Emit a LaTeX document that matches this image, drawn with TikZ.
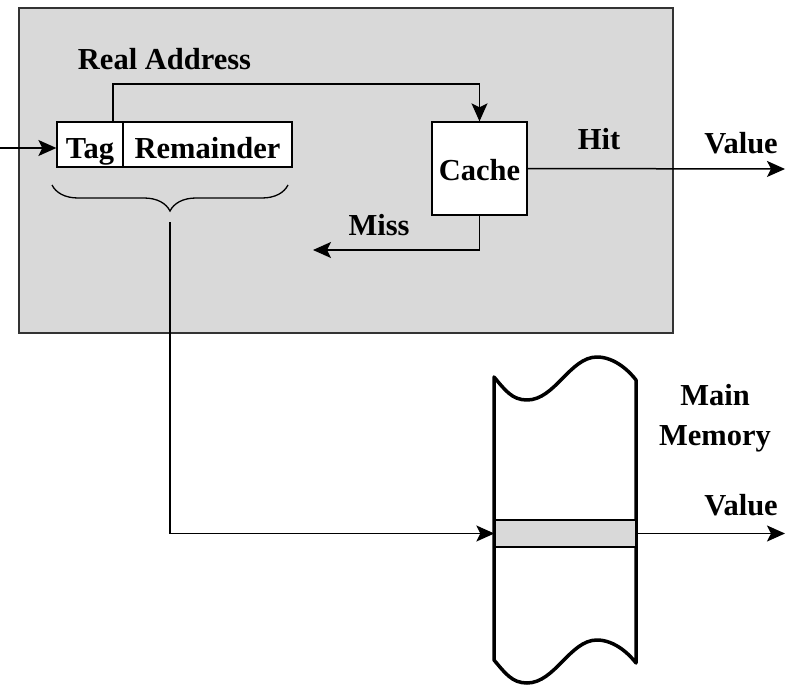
\documentclass[tikz,border=0pt]{standalone}
\usepackage{fontspec}
\setmainfont{Liberation Serif}
\usetikzlibrary{positioning,arrows.meta,decorations.pathreplacing}

\tikzset{
  lbl/.style={font=\bfseries\fontsize{30.5}{40}\selectfont, inner sep=0pt, align=center},
  fld/.style={draw, fill=white, line width=1.3pt, minimum height=45pt, inner sep=0pt,
    text height=28pt, text depth=1pt, font=\bfseries\fontsize{30.5}{34}\selectfont},
  arr/.style={-{Stealth[length=18pt,width=16pt,inset=4pt]}, line width=1.5pt}
}

\begin{document}
\begin{tikzpicture}[x=1pt,y=-1pt]
\useasboundingbox (0,0) rectangle (791,687);
\filldraw[fill=black!15, draw=black!80, line width=2pt] (19,8) rectangle (673,333);
\node[lbl] (raddr) at (164.5,59) {Real Address};
\node[fld, minimum width=66pt] (tag) at (90,144.5) {Tag};
\node[fld, minimum width=169pt, right=-1.3pt of tag] (rem) {Remainder};
\node[fld, minimum width=95pt, minimum height=93pt, text height=23pt, text depth=0pt] (cache) at (479.5,168.5) {Cache};
\node[lbl] (hit) at (599,139) {Hit};
\node[lbl] (miss) at (379,225) {Miss};
\node[lbl] (value1) at (741,143) {Value};
\coordinate (src) at (0,148);
\coordinate (hitend) at (785,169);
\coordinate (missend) at (313,250);
\draw[arr] (src) -- (src -| tag.west);
\draw[arr] ([xshift=23pt]tag.north) |- (300,84) -| (cache.north);
\draw[arr] (cache.east) -- (hitend);
\draw[arr] (cache.south) |- (missend);
\draw[decorate, decoration={brace, mirror, amplitude=26pt}, line width=1.3pt] (52,185) -- (288,185);
\coordinate (btip) at (170,222);
% main memory
\draw[line width=3.5pt, line join=round, fill=white] (494,377) .. controls (505,390) and (512,400) .. (527,400)
  .. controls (555,400) and (570,357) .. (597,357) .. controls (615,357) and (630,372) .. (636,380)
  -- (636,663) .. controls (630,655) and (615,640) .. (597,640) .. controls (570,640) and (555,683) .. (527,683)
  .. controls (512,683) and (505,673) .. (494,660) -- cycle;
\node[draw, fill=black!15, line width=1.3pt, minimum width=141pt, minimum height=27pt, inner sep=0pt] (slot) at (565.5,533.5) {};
\node[lbl] (mem) at (715,418) {Main\\Memory};
\node[lbl] (value2) at (741,505) {Value};
\coordinate (memend) at (785,533.5);
\draw[arr] (btip) |- (slot.west);
\draw[arr] (slot.east) -- (memend);
\end{tikzpicture}
\end{document}
